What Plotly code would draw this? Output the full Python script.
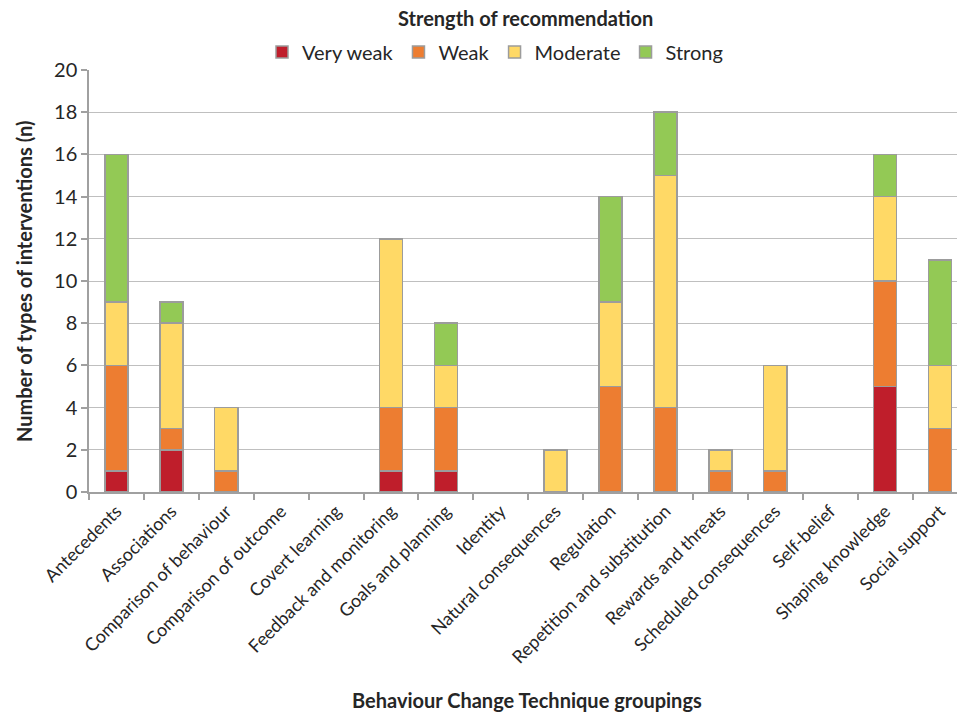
import plotly.graph_objects as go

categories = [
    "Antecedents", "Associations", "Comparison of behaviour",
    "Comparison of outcome", "Covert learning", "Feedback and monitoring",
    "Goals and planning", "Identity", "Natural consequences", "Regulation",
    "Repetition and substitution", "Rewards and threats",
    "Scheduled consequences", "Self-belief", "Shaping knowledge",
    "Social support",
]
very_weak = [1, 2, 0, 0, 0, 1, 1, 0, 0, 0, 0, 0, 0, 0, 5, 0]
weak      = [5, 1, 1, 0, 0, 3, 3, 0, 0, 5, 4, 1, 1, 0, 5, 3]
moderate  = [3, 5, 3, 0, 0, 8, 2, 0, 2, 4, 11, 1, 5, 0, 4, 3]
strong    = [7, 1, 0, 0, 0, 0, 2, 0, 0, 5, 3, 0, 0, 0, 2, 5]

series = [
    ("Very weak", very_weak, "#BF1E2B"),
    ("Weak", weak, "#ED7D31"),
    ("Moderate", moderate, "#FFD966"),
    ("Strong", strong, "#93C955"),
]

FONT = "Lato"
TXT = "#262626"
W, H = 957, 713
L, R, T, B = 89, 0, 70, 221

fig = go.Figure()
for name, vals, col in series:
    # empty segments are left out so no outline is drawn for them
    fig.add_trace(go.Bar(
        name=name, x=categories, y=[v if v else None for v in vals],
        marker=dict(color=col, line=dict(color="#9C9C9C", width=1.5)),
    ))

plot_w = W - L - R
plot_h = H - T - B
cat_px = 54.9
right_edge = -0.5 + plot_w / cat_px

fig.update_layout(
    width=W, height=H,
    margin=dict(l=L, r=R, t=T, b=B),
    barmode="stack", bargap=0.58,
    plot_bgcolor="white", paper_bgcolor="white",
    font=dict(family=FONT, size=18, color=TXT),
    showlegend=True,
    legend=dict(
        orientation="h", x=(495 - L) / plot_w, xanchor="center",
        y=1 + 18 / plot_h, yanchor="middle",
        font=dict(size=20, color=TXT), traceorder="normal",
        itemwidth=30, tracegroupgap=0,
    ),
    xaxis=dict(
        range=[-0.5, right_edge],
        showline=True, linecolor="#A0A0A0", linewidth=1.5,
        ticks="outside", tickson="boundaries", ticklen=6,
        tickcolor="#A0A0A0", tickwidth=1.5,
        tickangle=-45, tickfont=dict(size=18, color=TXT),
        showgrid=False,
    ),
    yaxis=dict(
        range=[0, 20], dtick=2,
        showline=True, linecolor="#A0A0A0", linewidth=1.5,
        ticks="outside", ticklen=6, tickcolor="#A0A0A0", tickwidth=1.5,
        tickfont=dict(size=20, color=TXT),
        showgrid=True, gridcolor="#BFBFBF", gridwidth=1.2,
        zeroline=False,
    ),
    annotations=[
        dict(text="<b>Strength of recommendation</b>", xref="paper", yref="paper",
             x=(525 - L) / plot_w, y=1, yshift=52, xanchor="center", yanchor="middle",
             showarrow=False, font=dict(size=20, color=TXT)),
        dict(text="<b>Number of types of interventions (n)</b>", xref="paper",
             yref="paper", x=0, xshift=-65, y=(492 - 281) / plot_h, textangle=-90,
             xanchor="center", yanchor="middle", showarrow=False,
             font=dict(size=20, color=TXT)),
        dict(text="<b>Behaviour Change Technique groupings</b>", xref="paper",
             yref="paper", x=(527 - L) / plot_w, y=0, yshift=-208,
             xanchor="center", yanchor="middle", showarrow=False,
             font=dict(size=20, color=TXT)),
    ],
)

fig.write_html("out.html")
